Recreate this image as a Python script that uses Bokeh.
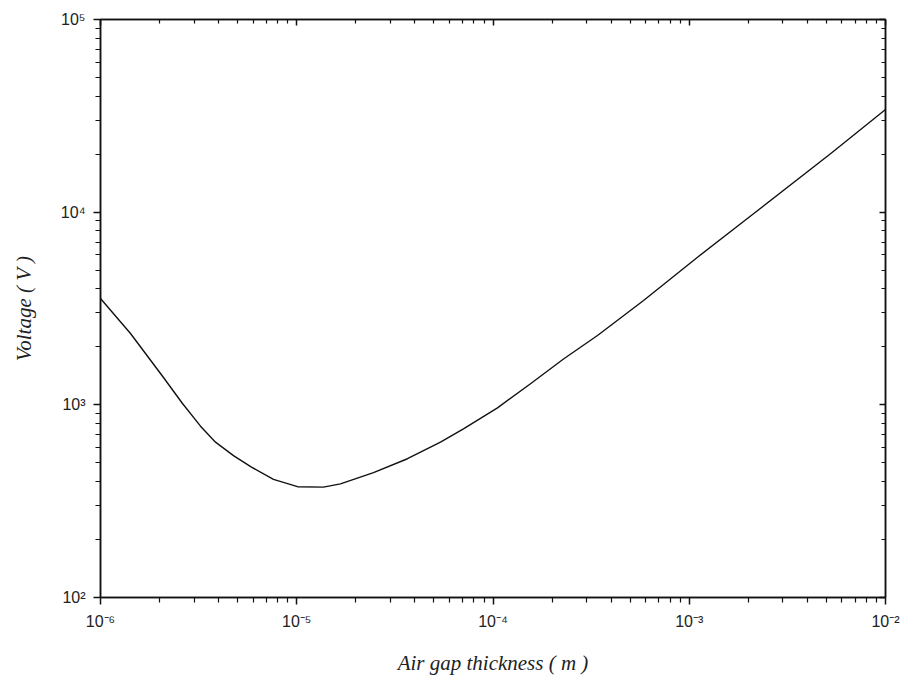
from bokeh.plotting import figure
from bokeh.models import Range1d, LogAxis, FixedTicker
from bokeh.embed import file_html
from bokeh.resources import INLINE

# Data (Paschen-like curve)
gap_m = [1.0e-6, 1.422e-6, 2.094e-6, 2.617e-6, 3.233e-6, 3.855e-6, 4.76e-6,
         5.879e-6, 7.61e-6, 1.009e-5, 1.368e-5, 1.67e-5, 2.461e-5, 3.666e-5,
         5.40e-5, 7.07e-5, 1.054e-4, 1.553e-4, 2.287e-4, 3.407e-4, 5.85e-4,
         1.102e-3, 2.125e-3, 5.245e-3, 1.0e-2]
voltage_v = [3565, 2345, 1387, 1016, 775, 640, 545,
             475, 410, 376, 374, 389, 445, 525,
             640, 751, 965, 1286, 1730, 2290, 3479,
             5838, 9806, 20090, 34110]

x_ticks = [1e-6, 1e-5, 1e-4, 1e-3, 1e-2]
x_tick_labels = ["10⁻⁶", "10⁻⁵", "10⁻⁴", "10⁻³", "10⁻²"]
y_ticks = [1e2, 1e3, 1e4, 1e5]
y_tick_labels = ["10²", "10³", "10⁴", "10⁵"]

def minors(ticks):
    out = []
    for t in ticks[:-1]:
        out += [t * k for k in range(2, 10)]
    return out

p = figure(width=901, height=688, x_axis_type="log", y_axis_type="log",
           output_backend="svg", toolbar_location=None,
           x_range=Range1d(1e-6, 1e-2), y_range=Range1d(1e2, 1e5),
           min_border_left=100, min_border_right=16, min_border_top=19,
           min_border_bottom=91, background_fill_color="white",
           border_fill_color="white")
p.grid.visible = False
p.outline_line_color = "#111111"
p.outline_line_width = 1.5

p.line(gap_m, voltage_v, line_color="#111111", line_width=1.4,
       line_join="round")

xt = FixedTicker(ticks=x_ticks, minor_ticks=minors(x_ticks))
yt = FixedTicker(ticks=y_ticks, minor_ticks=minors(y_ticks))

def style(ax, ticker, labels, ticks, show_labels, inward):
    ax.ticker = ticker
    ax.axis_line_color = "#111111"
    ax.axis_line_width = 1.5
    ax.major_tick_line_color = "#111111"
    ax.minor_tick_line_color = "#111111"
    ax.major_tick_line_width = 1.5
    ax.minor_tick_line_width = 1.2
    if inward:
        ax.major_tick_in = 6
        ax.major_tick_out = 0
        ax.minor_tick_in = 4
        ax.minor_tick_out = 0
    else:
        ax.major_tick_in = 0
        ax.major_tick_out = 7
        ax.minor_tick_in = 0
        ax.minor_tick_out = 5
    if show_labels:
        ax.major_label_overrides = {t: l for t, l in zip(ticks, labels)}
    else:
        ax.major_label_overrides = {t: "" for t in ticks}
    ax.major_label_text_font = "Liberation Sans"
    ax.major_label_text_font_size = "16px"
    ax.major_label_text_color = "#222222"

bottom = p.xaxis[0]
left = p.yaxis[0]
style(bottom, xt, x_tick_labels, x_ticks, True, False)
style(left, yt, y_tick_labels, y_ticks, True, False)
bottom.major_label_standoff = 8
left.major_label_standoff = 8

top = LogAxis()
style(top, xt, x_tick_labels, x_ticks, False, True)
top.major_label_standoff = 0
top.major_label_text_font_size = "1px"
right = LogAxis()
style(right, yt, y_tick_labels, y_ticks, False, True)
right.major_label_standoff = 0
right.major_label_text_font_size = "1px"
p.add_layout(top, "above")
p.add_layout(right, "right")

bottom.axis_label = "Air gap thickness ( m )"
left.axis_label = "Voltage ( V )"
for ax in (bottom, left):
    ax.axis_label_text_font = "Liberation Serif"
    ax.axis_label_text_font_style = "italic"
    ax.axis_label_text_font_size = "21px"
    ax.axis_label_text_color = "#222222"
bottom.axis_label_standoff = 18
left.axis_label_standoff = 22

open("out.html", "w").write(file_html(p, INLINE))
